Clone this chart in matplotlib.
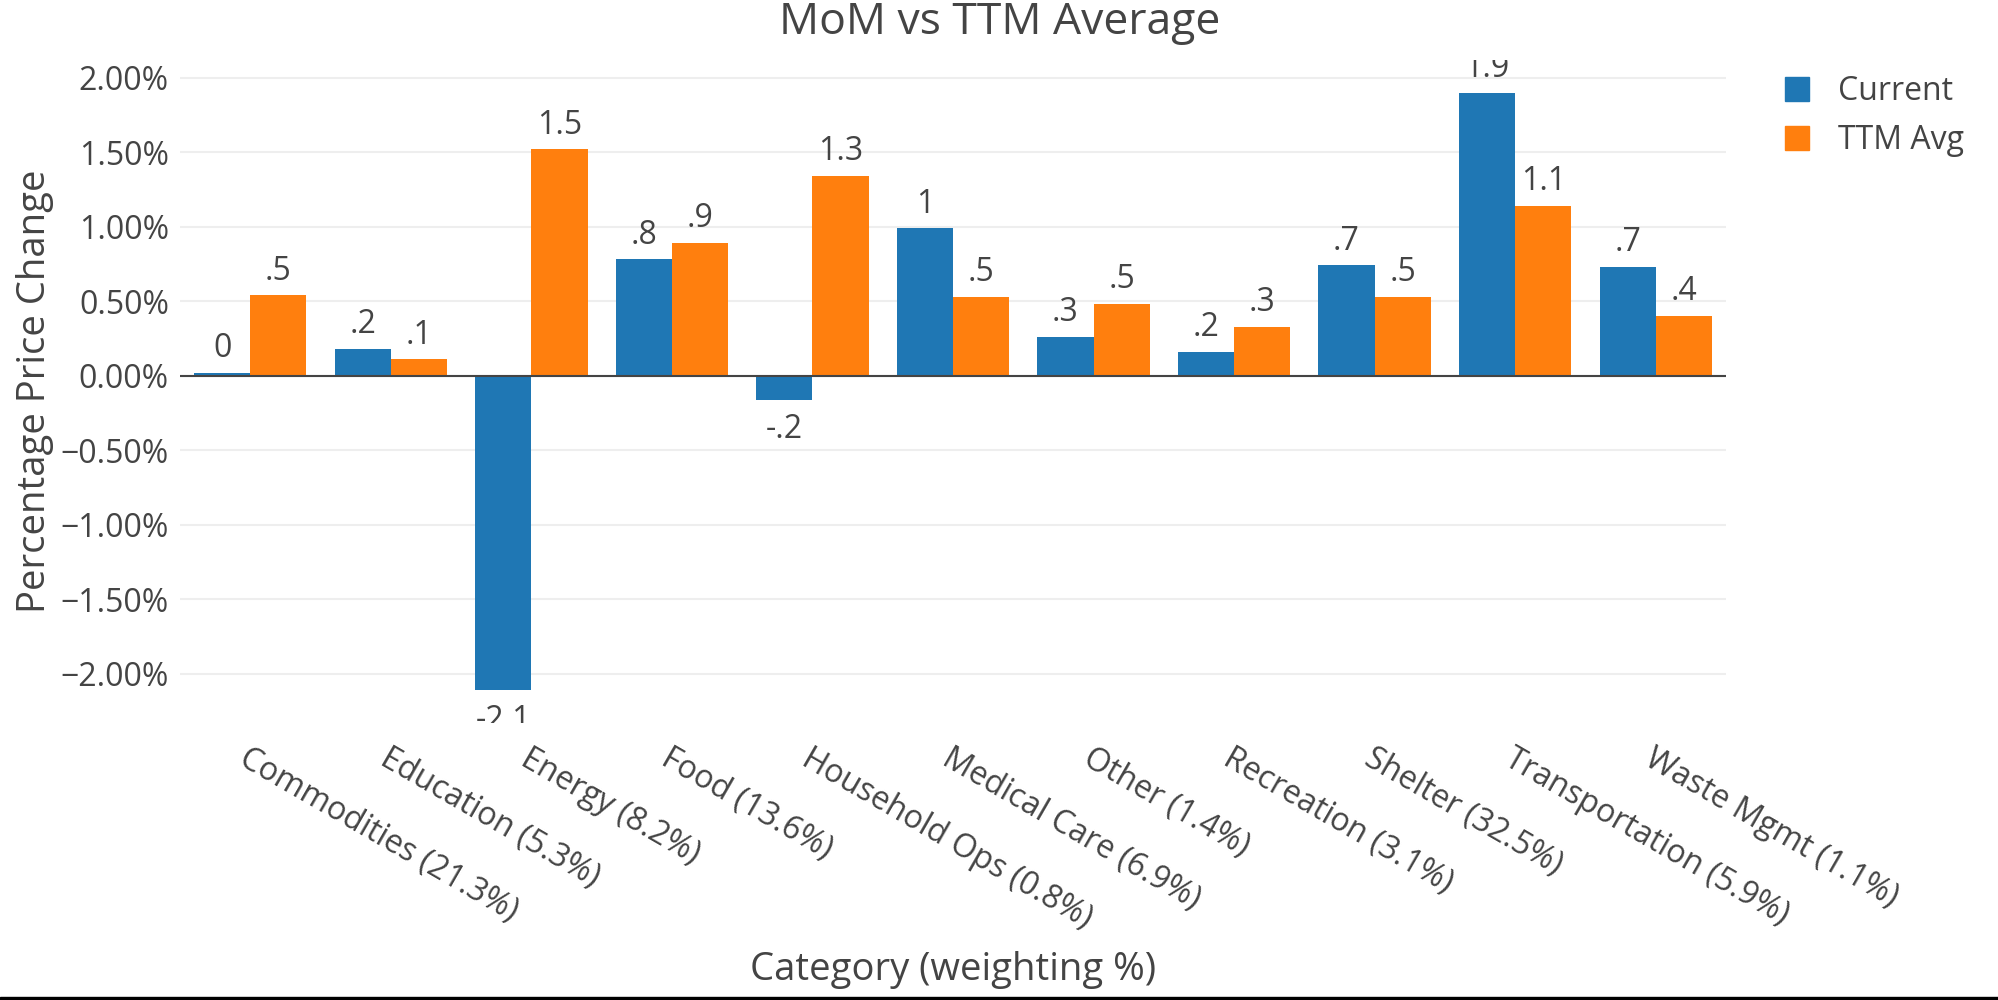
import numpy as np
import matplotlib
matplotlib.use("Agg")
import matplotlib.pyplot as plt
from matplotlib.patches import Patch, Rectangle
from matplotlib.ticker import FuncFormatter

plt.rcParams['font.family'] = ['Open Sans', 'DejaVu Sans']

# data
categories = ['Commodities (21.3%)', 'Education (5.3%)', 'Energy (8.2%)', 'Food (13.6%)',
              'Household Ops (0.8%)', 'Medical Care (6.9%)', 'Other (1.4%)', 'Recreation (3.1%)',
              'Shelter (32.5%)', 'Transportation (5.9%)', 'Waste Mgmt (1.1%)']
current = [0.02, 0.18, -2.11, 0.78, -0.16, 0.99, 0.26, 0.16, 0.74, 1.90, 0.73]
ttm_avg = [0.54, 0.11, 1.52, 0.89, 1.34, 0.53, 0.48, 0.33, 0.53, 1.14, 0.40]
series_names = ['Current', 'TTM Avg']
colors = ['#1f77b4', '#ff7f0e']
txt = '#444444'


def fmt(v):
    s = f"{v:.1f}"
    if s.endswith(".0"):
        s = s[:-2]
    if s.startswith("0."):
        s = s[1:]
    elif s.startswith("-0."):
        s = "-" + s[2:]
    return s


fig = plt.figure(figsize=(19.99, 10), dpi=100)
ax = fig.add_axes([180 / 1999, 1 - 723 / 1000, (1726 - 180) / 1999, (723 - 60) / 1000])

x = np.arange(len(categories))
w = 0.4
for i, vals in enumerate([current, ttm_avg]):
    pos = x - w / 2 + i * w
    ax.bar(pos, vals, width=w, color=colors[i], zorder=3)
    for p, v in zip(pos, vals):
        if v >= 0:
            ax.annotate(fmt(v), (p, v), xytext=(0, 11.3), textcoords='offset points',
                        ha='center', va='baseline', fontsize=23, color=txt,
                        clip_on=True, annotation_clip=False)
        else:
            ax.annotate(fmt(v), (p, v), xytext=(0, -10), textcoords='offset points',
                        ha='center', va='top', fontsize=23, color=txt,
                        clip_on=True, annotation_clip=False)

ax.set_xlim(-0.5, len(categories) - 0.5)
ax.set_ylim(-2.331, 2.119)
ax.set_yticks([-2, -1.5, -1, -0.5, 0, 0.5, 1, 1.5, 2])
ax.yaxis.set_major_formatter(FuncFormatter(lambda v, _: f"{v:.2f}%".replace('-', '\u2212')))
ax.grid(axis='y', color='#eeeeee', lw=1.5, zorder=0)
ax.axhline(0, color=txt, lw=1.5, zorder=4)

ax.set_xticks(x)
ax.set_xticklabels(categories, rotation=-30, ha='left', va='top', rotation_mode='anchor')
ax.tick_params(axis='x', length=0, pad=14, labelsize=23, labelcolor=txt)
ax.tick_params(axis='y', length=0, pad=8, labelsize=23, labelcolor=txt)
for s in ax.spines.values():
    s.set_visible(False)

# texts
fig.text(0.5, 1 - 34 / 1000, 'MoM vs TTM Average', ha='center', va='baseline', fontsize=32, color=txt)
fig.text(16 / 1999, 0.609, 'Percentage Price Change', rotation=90, ha='left', va='center',
         fontsize=27.5, color=txt)
fig.text(953 / 1999, 1 - 980 / 1000, 'Category (weighting %)', ha='center', va='baseline',
         fontsize=27.5, color=txt)

handles = [Patch(color=c) for c in colors]
fig.legend(handles, series_names, loc='upper left', bbox_to_anchor=(1785 / 1999, 1 - 75 / 1000),
           frameon=False, fontsize=23, handlelength=0.75, handleheight=0.75, handletextpad=0.9,
           labelspacing=0.5, labelcolor=txt, borderpad=0, borderaxespad=0)

# dark strip at the bottom edge
fig.add_artist(Rectangle((0, 0), 1, 0.003, transform=fig.transFigure, color='black'))

fig.savefig('out.png', dpi=100)
